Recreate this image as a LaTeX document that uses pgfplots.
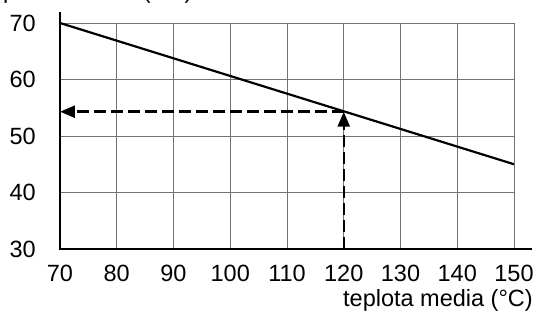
\documentclass[border=0pt]{standalone}
\usepackage{pgfplots}
\pgfplotsset{compat=1.18}
\usepackage{fontspec}
\setmainfont{Liberation Sans}
\usetikzlibrary{arrows.meta}
\newcommand{\bigf}{\fontsize{23.5bp}{28bp}\selectfont}
\begin{document}
\begin{tikzpicture}[font=\bigf]
\begin{axis}[
 at={(0,0)}, anchor=south west,
 scale only axis, width=454bp, height=226bp,
 xmin=70, xmax=150, ymin=30, ymax=70,
 xtick={70,80,...,150}, ytick={30,40,...,70},
 grid=major, major grid style={black!55, line width=1bp},
 axis line style={black!55, line width=1bp},
 major tick length=0pt,
 /pgf/number format/assume math mode=true,
 tick label style={font=\bigf},
 yticklabel style={inner sep=0pt, anchor=east, xshift=-24bp},
 xticklabel style={inner sep=0pt, anchor=north, yshift=-16bp},
 clip=false,
 xlabel={teplota media (°C)},
 xlabel style={at={(axis description cs:1,0)}, anchor=base east, inner sep=0pt, xshift=19bp, yshift=-57bp, font=\bigf},
]
\addplot[black, line width=2.2bp] coordinates {(70,70) (150,45)};
\addplot[black, line width=2.5bp, dash pattern=on 12bp off 5bp, -{Triangle[length=15bp,width=12bp]}] coordinates {(120,54.3) (70,54.3)};
\addplot[black, line width=2.5bp, dash pattern=on 12bp off 5bp, -{Triangle[length=15bp,width=12bp]}] coordinates {(120,30) (120,54.3)};
\addplot[black, line width=2.7bp] coordinates {(70,71.95) (70,30) (153.1,30)};
\end{axis}
\node[anchor=base west, inner sep=0pt] at (-57bp,250bp) {pracovní tlak (bar)};
\pgfresetboundingbox
\useasboundingbox (-60bp,-65bp) rectangle (477bp,249bp);
\end{tikzpicture}
\end{document}
